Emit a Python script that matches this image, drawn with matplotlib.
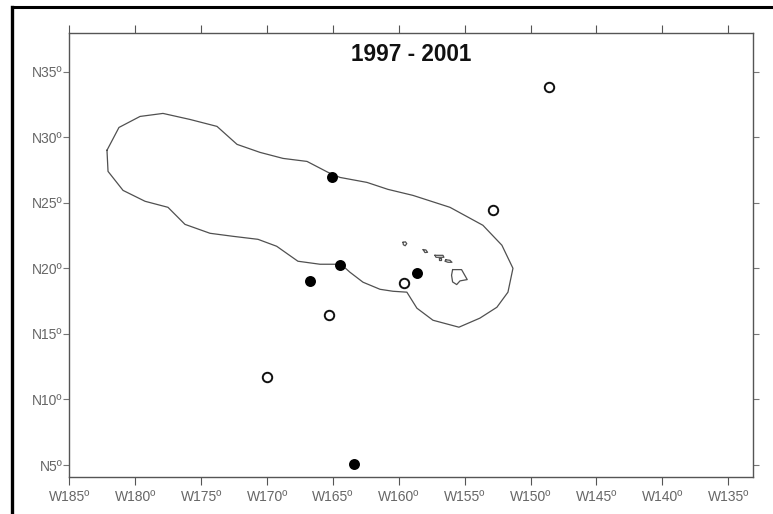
import matplotlib
matplotlib.use('Agg')
import matplotlib.pyplot as plt
from matplotlib.lines import Line2D

# contour around the islands (lon, lat)
contour_lon = [-182.15, -181.24, -179.64, -177.9, -175.85, -173.8, -172.28, -170.54, -168.79, -166.97,
               -165.38, -164.47, -162.42, -160.83, -158.93, -156.12, -153.62, -152.18, -151.34, -151.72,
               -152.56, -153.85, -155.44, -157.41, -158.63, -159.39, -160.45, -161.43, -162.72, -163.71,
               -164.39, -165.99, -167.66, -168.41, -169.27, -170.69, -172.59, -174.33, -176.23, -177.52,
               -179.26, -180.93, -182.07, -182.15]
contour_lat = [29.0, 30.74, 31.58, 31.81, 31.35, 30.82, 29.45, 28.84, 28.38, 28.15,
               27.32, 26.93, 26.55, 26.02, 25.56, 24.65, 23.28, 21.76, 20.0, 18.18,
               17.03, 16.2, 15.51, 16.04, 16.96, 18.18, 18.25, 18.4, 18.94, 19.7,
               20.31, 20.31, 20.54, 21.07, 21.68, 22.21, 22.44, 22.67, 23.35, 24.65,
               25.11, 25.94, 27.39, 29.0]

# islands
hawaii_lon = [-155.92, -155.24, -154.81, -155.36, -155.61, -155.92, -156.0, -155.92]
hawaii_lat = [19.9, 19.9, 19.14, 19.04, 18.76, 18.96, 19.47, 19.9]
maui_lon = [-156.43, -156.12, -155.97, -156.27, -156.5, -156.43]
maui_lat = [20.65, 20.61, 20.46, 20.46, 20.54, 20.65]
lanai_lon = [-156.98, -156.8, -156.8, -156.98, -156.98]
lanai_lat = [20.76, 20.76, 20.6, 20.6, 20.76]
molokai_lon = [-157.26, -156.65, -156.58, -157.18, -157.26]
molokai_lat = [20.99, 20.99, 20.84, 20.84, 20.99]
oahu_lon = [-158.15, -157.95, -157.82, -158.02, -158.15]
oahu_lat = [21.42, 21.4, 21.22, 21.2, 21.42]
kauai_lon = [-159.68, -159.5, -159.4, -159.52, -159.66, -159.68]
kauai_lat = [21.98, 22.02, 21.88, 21.72, 21.8, 21.98]

# sightings
filled_lon = [-165.08, -164.43, -166.71, -158.66, -163.41]
filled_lat = [26.97, 20.23, 19.01, 19.62, 5.08]
open_lon = [-148.57, -152.86, -159.61, -165.3, -170.01]
open_lat = [33.79, 24.42, 18.86, 16.46, 11.74]

x_ticks = [-185, -180, -175, -170, -165, -160, -155, -150, -145, -140, -135]
x_labels = ['W185º', 'W180º', 'W175º', 'W170º', 'W165º', 'W160º', 'W155º', 'W150º', 'W145º', 'W140º', 'W135º']
y_ticks = [5, 10, 15, 20, 25, 30, 35]
y_labels = ['N5º', 'N10º', 'N15º', 'N20º', 'N25º', 'N30º', 'N35º']

plt.rcParams['font.family'] = ['Liberation Sans', 'DejaVu Sans']

W, H = 773, 514
fig = plt.figure(figsize=(W / 100, H / 100), dpi=100)
ax = fig.add_axes([68.5 / W, 1 - 476.7 / H, (753.3 - 68.5) / W, (476.7 - 32.5) / H])

ax.plot(contour_lon, contour_lat, color='#505050', lw=0.9, zorder=2)
for lon, lat in [(hawaii_lon, hawaii_lat), (maui_lon, maui_lat), (lanai_lon, lanai_lat),
                 (molokai_lon, molokai_lat), (oahu_lon, oahu_lat), (kauai_lon, kauai_lat)]:
    ax.plot(lon, lat, color='#505050', lw=0.9, zorder=2)

ax.plot(filled_lon, filled_lat, 'o', color='black', ms=7.9, mew=0, zorder=3, clip_on=False)
ax.plot(open_lon, open_lat, 'o', mfc='white', mec='#111111', ms=6.8, mew=1.4, zorder=3, clip_on=False)

ax.set_xlim(-185.07, -133.1)
ax.set_ylim(4.11, 37.98)

ax.set_xticks(x_ticks)
ax.set_xticklabels(x_labels)
ax.set_yticks(y_ticks)
ax.set_yticklabels(y_labels)
ax.tick_params(axis='x', top=True, length=6, width=0.8, color='#555555', labelcolor='#666666',
               labelsize=10, pad=3.5)
ax.tick_params(axis='y', right=True, length=4, width=0.8, color='#777777', labelcolor='#666666',
               labelsize=10, pad=0.5)

for side in ax.spines:
    ax.spines[side].set_color('#555555')
    ax.spines[side].set_linewidth(1.0)

ax.text(0.501, 0.9515, '1997 - 2001', transform=ax.transAxes, ha='center', va='center',
        fontsize=16.3, fontweight='bold', color='#111111')

# black frame on the left and top of the picture
fig.add_artist(Line2D([11.7 / W, 11.7 / W], [0, 1 - 6.5 / H], color='black', lw=2.4, solid_capstyle='projecting'))
fig.add_artist(Line2D([11.7 / W, 1], [1 - 6.5 / H, 1 - 6.5 / H], color='black', lw=2.2, solid_capstyle='projecting'))

fig.savefig('out.png', dpi=100)
